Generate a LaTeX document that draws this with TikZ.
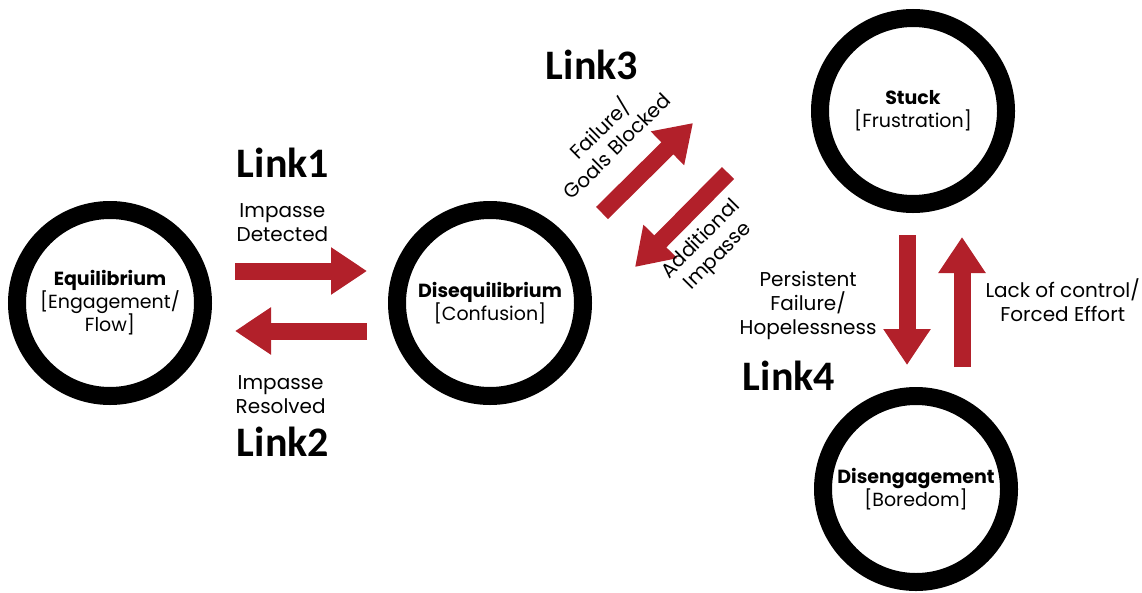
\documentclass[tikz,border=0pt]{standalone}
\usepackage{fontspec}
\setmainfont{Poppins}
\newfontfamily\linkfont{Carlito}
\usetikzlibrary{arrows.meta}
\definecolor{linkred}{RGB}{178,32,42}

\begin{document}
\begin{tikzpicture}[x=1pt,y=-1pt,
  state/.style={circle,draw,line width=18pt,minimum size=186pt,inner sep=0pt,align=center,font=\fontsize{19}{23}\selectfont},
  flow/.style={linkred,line width=17pt,-{Triangle[length=36pt,width=45pt]}},
  lbl/.style={text=black,align=center,inner sep=0pt,font=\fontsize{20}{24}\selectfont},
  link/.style={inner sep=0pt,font=\linkfont\bfseries\fontsize{42}{48}\selectfont}]

\useasboundingbox (0,0) rectangle (1142,592);

\node[state](eq) at (110,303){\textbf{Equilibrium}\\{[}Engagement/\\Flow]};
\node[state](dis) at (490,303){\textbf{Disequilibrium}\\{[}Confusion]};
\node[state](stuck) at (913,111){\textbf{Stuck}\\{[}Frustration]};
\node[state](bored) at (916,489){\textbf{Disengagement}\\{[}Boredom]};

\coordinate (fb0) at (602,213);
\coordinate (fb1) at (693,123);
\coordinate (ai0) at (728,173);
\coordinate (ai1) at (635,267);

\draw[flow,shorten <=23pt,shorten >=21pt] ([yshift=32pt]eq.east) -- node[lbl,pos=0.40,above=21pt]{Impasse\\Detected} ([yshift=32pt]dis.west);
\draw[flow,shorten <=21pt,shorten >=23pt] ([yshift=-28pt]dis.west) -- node[lbl,pos=0.61,below=36pt]{Impasse\\Resolved} ([yshift=-28pt]eq.east);
\draw[flow] (fb0) -- node[lbl,sloped,pos=0.45,above=21pt]{Failure/\\Goals Blocked} (fb1);
\draw[flow] (ai0) -- node[lbl,sloped,below=9pt]{Additional\\Impasse} (ai1);
\draw[flow,shorten <=22pt,shorten >=22pt] ([xshift=-6pt]stuck.south) -- node[lbl,pos=0.53,left=22pt]{Persistent\\Failure/\\Hopelessness} ([xshift=-9pt]bored.north);
\draw[flow,shorten <=20pt,shorten >=24pt] ([xshift=46pt]bored.north) -- node[lbl,pos=0.5,right=15pt]{Lack of control/\\Forced Effort} ([xshift=49pt]stuck.south);

\node[link](l1) at (283,163){Link1};
\node[link](l2) at (283,442){Link2};
\node[link](l3) at (592,65){Link3};
\node[link](l4) at (789,376){Link4};

\end{tikzpicture}
\end{document}
